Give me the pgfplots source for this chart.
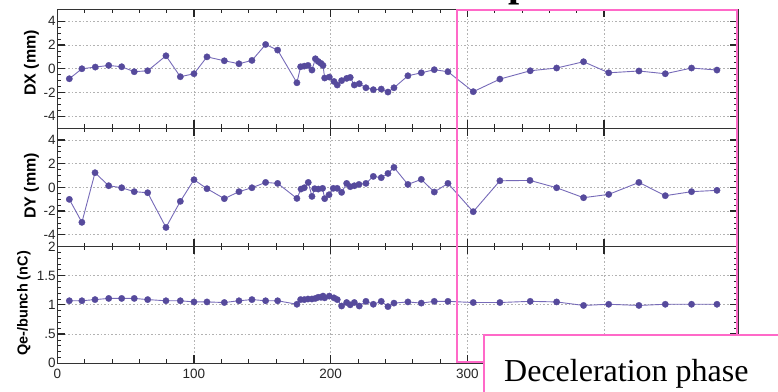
\documentclass[border=0pt]{standalone}
\usepackage{pgfplots}
\pgfplotsset{compat=1.18}
\usepackage{fontspec}
\setmainfont{Liberation Sans}
\newfontfamily\seriffont{Liberation Serif}
\definecolor{linec}{RGB}{118,106,184}
\definecolor{markc}{RGB}{86,74,156}
\definecolor{pinkc}{RGB}{255,105,200}

\pgfplotstableread{
x y
8.8 -0.84
18 0
27.8 0.14
37.6 0.28
47.1 0.17
56.3 -0.25
66.1 -0.17
79.5 1.09
90 -0.67
100 -0.42
109.5 1.0
122.2 0.67
132.9 0.42
142.4 0.7
152.4 2.04
161.2 1.57
175.3 -1.18
178 0.17
180.7 0.22
183.4 0.28
186.3 -0.11
188.8 0.84
190.9 0.61
192.9 0.45
194.4 0.28
195.6 -0.78
199 -0.7
202.4 -1.07
204.8 -1.37
208 -1.0
211.7 -0.81
214.3 -0.73
217.3 -1.37
220.9 -1.26
225.8 -1.6
231.2 -1.76
237 -1.71
241.9 -1.96
246.3 -1.6
256.5 -0.59
266.3 -0.34
275.8 -0.08
285.8 -0.25
304.3 -1.93
323.8 -0.87
346 -0.17
365.3 0.06
385 0.59
403.4 -0.34
425.5 -0.19
444.8 -0.42
464 0.06
482.6 -0.11
}\dxdata

\pgfplotstableread{
x y
8.8 -1.01
18 -2.95
27.6 1.24
37.6 0.14
47.1 -0.03
56.3 -0.36
66.1 -0.45
79.5 -3.38
90 -1.18
100 0.65
109.5 -0.11
122.2 -0.95
132.9 -0.36
142.4 -0.03
152.4 0.42
161.2 0.34
175.3 -0.93
178.3 -0.14
180.7 -0.03
183.6 0.42
186.3 -0.76
188.3 -0.11
190.9 -0.14
194.1 -0.08
195.6 -0.95
198.8 -0.62
201.9 -0.08
204.8 -0.08
208 -0.42
211.7 0.34
214.3 0.06
217.3 0.14
220.7 0.25
225.8 0.34
231.2 0.93
237 0.82
241.9 1.18
246.3 1.69
256.5 0.25
266.3 0.68
275.8 -0.39
285.8 0.34
304.3 -2.05
323.8 0.56
345.8 0.59
365.3 -0.03
385 -0.87
403.4 -0.59
425.5 0.42
444.8 -0.70
464 -0.36
482.6 -0.25
}\dydata

\pgfplotstableread{
x y
8.8 1.07
18 1.07
27.6 1.09
37.6 1.11
47.1 1.11
56.3 1.11
66.1 1.09
79.5 1.07
90 1.07
100 1.05
109.5 1.05
122.2 1.04
132.9 1.07
142.4 1.09
152.4 1.07
161.2 1.07
175.3 1.01
178 1.09
180.7 1.09
183.4 1.10
186.3 1.10
188.8 1.11
190.9 1.13
192.9 1.13
194.4 1.15
195.6 1.12
199 1.15
202.4 1.12
204.8 1.09
208 0.98
211.7 1.04
214.3 1.00
217.3 1.04
220.9 0.98
225.8 1.06
231.2 1.01
237 1.06
241.9 0.97
246.3 1.03
256.5 1.05
266.3 1.03
275.8 1.06
285.8 1.06
304.3 1.04
323.8 1.04
346 1.06
365.3 1.05
385 0.99
403.4 1.01
425.5 0.99
444.8 1.01
464 1.01
482.6 1.01
}\qdata

\pgfplotsset{
  panel/.style={
    scale only axis, width=680.7pt, xmin=0, xmax=498,
    anchor=south west,
    axis line style={line width=1.2pt, black!80},
    tick align=inside, tick pos=both,
    xtick={0,100,200,300,400}, minor x tick num=4,
    major tick length=8pt, minor tick length=4pt,
    major tick style={line width=1.2pt, black!85},
    minor tick style={line width=0.8pt, black!85},
    grid=major,
    major grid style={gray!60, line width=0.8pt, dash pattern=on 1.6pt off 2pt},
    tick label style={font=\fontsize{13.5}{14}\selectfont, text=black!85},
    yticklabel style={inner xsep=1.5pt},
    xticklabel style={yshift=-2pt},
    ylabel style={font=\fontsize{16}{18}\selectfont\bfseries, anchor=center},
  },
  data/.style={color=linec, line width=0.9pt, mark=*, mark size=3.2pt,
    mark options={fill=markc, draw=markc, line width=0.3pt}},
}

\begin{document}
\begin{tikzpicture}
\begin{axis}[panel, at={(57.3pt,262.8pt)}, height=118.9pt,
  ymin=-5, ymax=5, ytick={-4,-2,0,2,4}, yticklabels={-4,-2,0,2,4},
  minor y tick num=3, xticklabels={},
  ylabel={DX (mm)}, ylabel style={at={(axis description cs:-0.038,0.548)}}]
\addplot[data] table[x=x,y=y] {\dxdata};
\end{axis}
\begin{axis}[panel, at={(57.3pt,144.4pt)}, height=118.4pt,
  ymin=-5, ymax=5, ytick={-4,-2,0,2,4}, yticklabels={-4,-2,0,2,4},
  minor y tick num=3, xticklabels={},
  ylabel={DY (mm)}, ylabel style={at={(axis description cs:-0.038,0.512)}}]
\addplot[data] table[x=x,y=y] {\dydata};
\end{axis}
\begin{axis}[panel, at={(57.3pt,27.7pt)}, height=116.9pt,
  ymin=0, ymax=2, ytick={0,0.5,1,1.5,2}, yticklabels={0,.5,1,1.5,2},
  minor y tick num=4, xticklabels={0,100,200,300,{}},
  ylabel={Qe-/bunch (nC)}, ylabel style={at={(axis description cs:-0.049,0.512)}, font=\fontsize{14.5}{16}\selectfont\bfseries}]
\addplot[data] table[x=x,y=y] {\qdata};
\end{axis}
\draw[pinkc, line width=2pt] (456.7pt,29.2pt) rectangle (736.5pt,380.5pt);
\draw[pinkc, line width=2pt, fill=white] (483.7pt,56.3pt) rectangle (820pt,-30pt);
\node[anchor=base west, inner sep=0, font=\seriffont\fontsize{32}{36}\selectfont] at (504pt,9.3pt) {Deceleration phase};
\node[anchor=south west, inner sep=0, font=\seriffont\bfseries\fontsize{40}{40}\selectfont] at (508pt,386pt) {p};
\pgfresetboundingbox
\useasboundingbox (0,0) rectangle (778pt,391pt);
\end{tikzpicture}
\end{document}
